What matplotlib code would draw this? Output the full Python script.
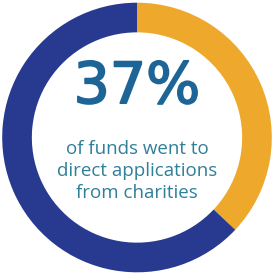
import matplotlib
matplotlib.use("Agg")
import matplotlib.pyplot as plt
import matplotlib.patheffects as pe

labels = ["Direct applications from charities", "Other"]
shares = [37, 63]
colors = ["#eea82c", "#273a8f"]
headline = "37%"
caption = "of funds went to\ndirect applications\nfrom charities"


def main():
    fig = plt.figure(figsize=(2.74, 2.75), dpi=100)
    ax = fig.add_axes([0, 0, 1, 1])
    ax.pie(shares, colors=colors, startangle=90, counterclock=False,
           radius=1.0, wedgeprops=dict(width=0.22, edgecolor="none"))
    ax.set_xlim(-1.015, 1.015)
    ax.set_ylim(-1.02, 1.02)
    ax.set_aspect("equal")
    ax.axis("off")
    ax.text(0, 0.37, headline, ha="center", va="center", fontsize=41,
            color="#1d6497", family="DejaVu Sans",
            path_effects=[pe.withStroke(linewidth=1.3, foreground="#1d6497")])
    ax.text(0, -0.25, caption, ha="center", va="center", fontsize=13.5,
            color="#2f7f98", family="Open Sans", linespacing=1.3)
    fig.savefig("out.png", dpi=100, facecolor="white")


if __name__ == "__main__":
    main()
